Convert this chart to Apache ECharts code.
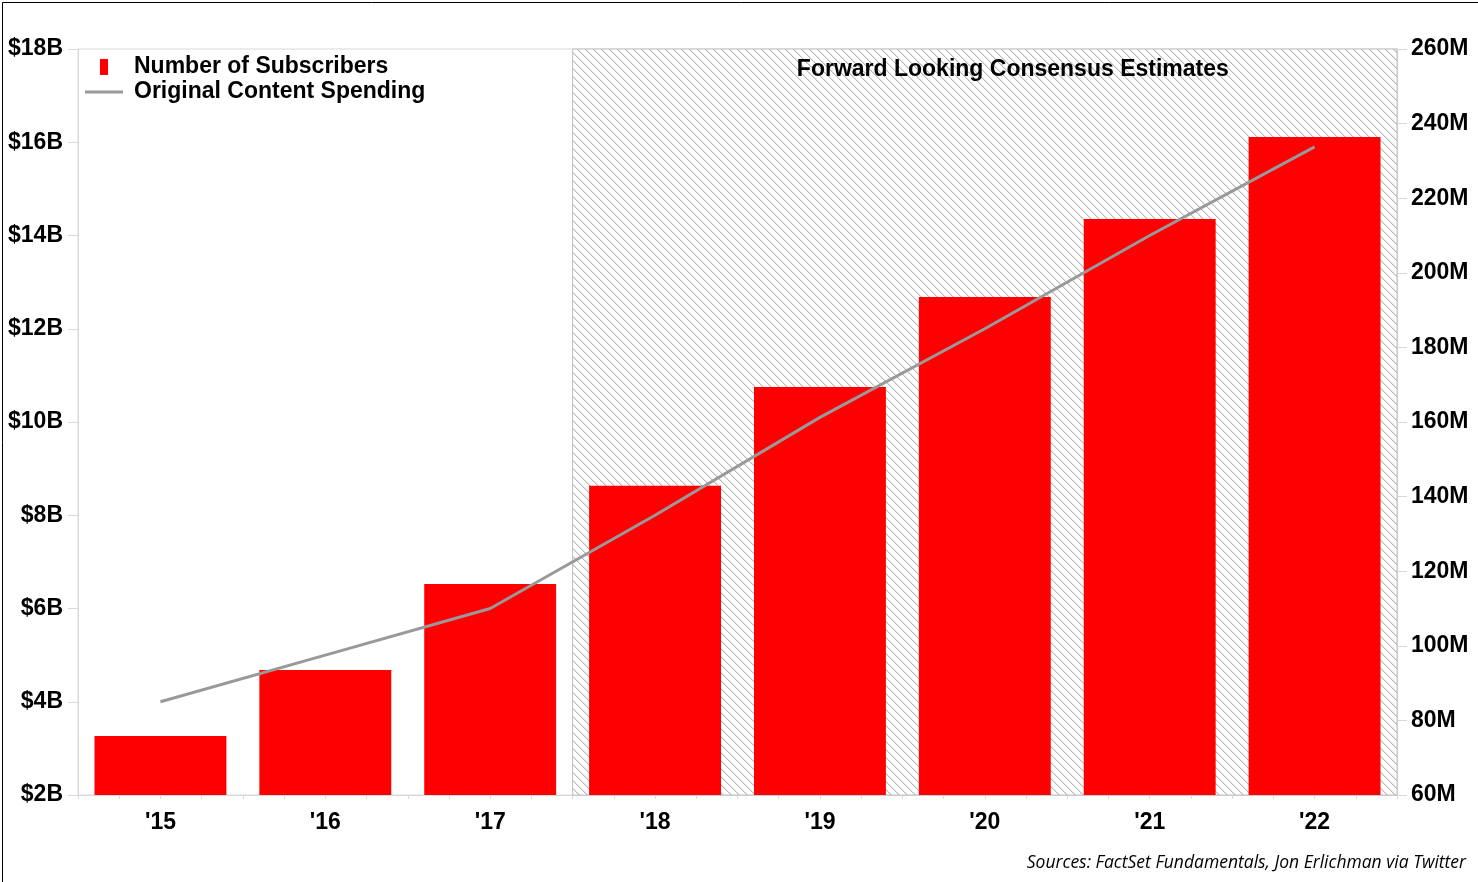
<!DOCTYPE html>
<html>
<head>
<meta charset="utf-8">
<script src="https://cdn.jsdelivr.net/npm/echarts@6/dist/echarts.min.js"></script>
<style>
html,body{margin:0;padding:0;background:#fff;}
#main{width:1478px;height:882px;}
</style>
</head>
<body>
<div id="main"></div>
<script>
// ---- data ----
const categories = ["'15", "'16", "'17", "'18", "'19", "'20", "'21", "'22"];
const subscribersM = [75.8, 93.5, 116.6, 142.9, 169.4, 193.5, 214.4, 236.4];
const contentSpendingB = [4.0, 5.0, 6.0, 8.0, 10.1, 12.0, 14.0, 15.9];
const forecastStart = "'18";
const leftTicks = { min: 2, max: 18, interval: 2 };
const rightTicks = { min: 60, max: 260, interval: 20 };
const seriesNames = ['Number of Subscribers', 'Original Content Spending'];
const areaLabel = 'Forward Looking Consensus Estimates';
const sourceText = 'Sources: FactSet Fundamentals, Jon Erlichman via Twitter';

// hatch pattern
const T = 8;
const tile = document.createElement('canvas');
tile.width = T; tile.height = T;
const tctx = tile.getContext('2d');
tctx.fillStyle = '#ffffff';
tctx.fillRect(0, 0, T, T);
for (let i = 0; i < T; i++) {
  tctx.fillStyle = '#b8b8b8';
  tctx.fillRect(i, i, 1, 1);
  tctx.fillStyle = '#e2e2e2';
  tctx.fillRect((i + 1) % T, i, 1, 1);
}

const startIdx = categories.indexOf(forecastStart);
const font = 'Liberation Sans, Arial, sans-serif';
const axisGray = '#d9d9d9';
const FS = 23;

const chart = echarts.init(document.getElementById('main'), null, { renderer: 'canvas' });
chart.setOption({
  backgroundColor: '#ffffff',
  animation: false,
  grid: { left: 78, right: 81, top: 49, bottom: 87, show: true, borderColor: axisGray, borderWidth: 1 },
  legend: {
    orient: 'vertical',
    left: 85, top: 55, padding: 0,
    itemWidth: 38, itemHeight: 16, itemGap: 1,
    textStyle: { fontFamily: font, fontWeight: 'bold', fontSize: FS, lineHeight: 24, color: '#000', padding: [0, 0, 0, 6] },
    data: [
      { name: seriesNames[0], icon: 'path://M0,0L0.05,0L0.05,0.05Z M15,0H23V16H15Z M37.95,15.95L38,16L37.95,16Z' },
      { name: seriesNames[1], icon: 'path://M0,0L0.05,0L0.05,0.05Z M0,6.5H38V9.5H0Z M37.95,15.95L38,16L37.95,16Z' }
    ]
  },
  xAxis: [
    {
      type: 'category', data: categories, position: 'bottom',
      axisLine: { lineStyle: { color: axisGray } },
      axisTick: { length: 9, lineStyle: { color: axisGray } },
      axisLabel: { margin: 16, fontFamily: font, fontWeight: 'bold', fontSize: FS, color: '#000' },
      splitLine: { show: false }
    },
    {
      type: 'value', min: 0, max: categories.length, interval: 0.25, position: 'bottom',
      axisLine: { show: false },
      axisTick: { show: true, length: 4, lineStyle: { color: axisGray } },
      axisLabel: { show: false },
      splitLine: { show: false }
    }
  ],
  yAxis: [
    {
      type: 'value', position: 'left', min: leftTicks.min, max: leftTicks.max, interval: leftTicks.interval,
      axisLine: { show: true, lineStyle: { color: axisGray } },
      axisTick: { show: true, length: 10, lineStyle: { color: axisGray } },
      axisLabel: { margin: 15, formatter: v => '$' + v + 'B', fontFamily: font, fontWeight: 'bold', fontSize: FS, color: '#000', padding: [5, 0, 0, 0] },
      splitLine: { show: false }
    },
    {
      type: 'value', position: 'right', min: rightTicks.min, max: rightTicks.max, interval: rightTicks.interval,
      axisLine: { show: true, lineStyle: { color: axisGray } },
      axisTick: { show: true, length: 10, lineStyle: { color: axisGray } },
      axisLabel: { margin: 14, formatter: v => v + 'M', fontFamily: font, fontWeight: 'bold', fontSize: FS, color: '#000', padding: [5, 0, 0, 0] },
      splitLine: { show: false }
    }
  ],
  series: [
    {
      type: 'scatter', xAxisIndex: 1, yAxisIndex: 0, data: [], silent: true, z: 1,
      markArea: {
        silent: true,
        itemStyle: { color: { image: tile, repeat: 'repeat' }, borderColor: '#bfbfbf', borderWidth: 1 },
        label: {
          show: true, position: 'insideTop', distance: 10, offset: [28, 0],
          fontFamily: font, fontWeight: 'bold', fontSize: FS, color: '#000'
        },
        data: [[{ name: areaLabel, xAxis: startIdx }, { xAxis: categories.length }]]
      }
    },
    {
      name: seriesNames[0], type: 'bar', xAxisIndex: 0, yAxisIndex: 1, z: 2,
      data: subscribersM, barCategoryGap: '20%',
      itemStyle: { color: '#ff0000' }
    },
    {
      name: seriesNames[1], type: 'line', xAxisIndex: 0, yAxisIndex: 0, z: 3,
      data: contentSpendingB, symbol: 'none', showSymbol: false,
      lineStyle: { color: '#999999', width: 3 },
      itemStyle: { color: '#999999' }
    }
  ],
  graphic: [
    { type: 'text', right: 12, top: 854, style: { text: sourceText, fontFamily: 'Open Sans, Noto Sans, sans-serif', fontStyle: 'italic', fontSize: 17.5, fill: '#000' } },
    { type: 'rect', left: 0, top: 0, shape: { x: 0.5, y: 0.5, width: 1477, height: 881 }, style: { fill: 'none', stroke: '#000', lineWidth: 1 }, silent: true }
  ]
});
</script>
</body>
</html>
